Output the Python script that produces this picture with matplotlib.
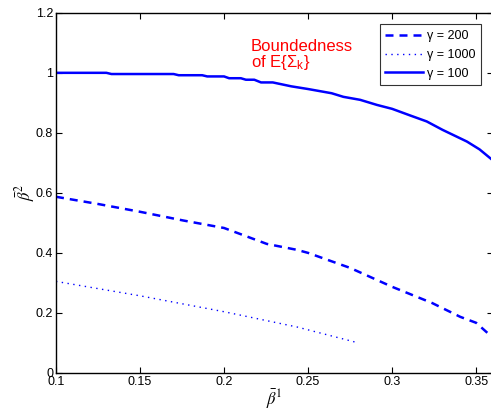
import matplotlib
matplotlib.use("Agg")
import matplotlib.pyplot as plt

plt.rcParams['font.family'] = ['Liberation Sans', 'DejaVu Sans']
plt.rcParams['mathtext.fontset'] = 'stix'

# gamma = 200 (dashed)
b1_200 = [0.10, 0.125, 0.15, 0.1757, 0.20, 0.2254, 0.2435, 0.25, 0.275, 0.30, 0.3238, 0.3405, 0.35, 0.36]
b2_200 = [0.587, 0.563, 0.537, 0.508, 0.483, 0.43, 0.41, 0.40, 0.35, 0.287, 0.233, 0.187, 0.167, 0.117]

# gamma = 1000 (dotted)
b1_1000 = [0.10, 0.15, 0.20, 0.2435, 0.28]
b2_1000 = [0.305, 0.257, 0.204, 0.153, 0.10]

# gamma = 100 (solid)
b1_100 = [0.10, 0.13, 0.133, 0.17, 0.173, 0.187, 0.19, 0.20, 0.203, 0.21, 0.213, 0.218,
          0.222, 0.229, 0.24, 0.25, 0.264, 0.271, 0.281, 0.291, 0.30, 0.3107, 0.3206,
          0.33, 0.3445, 0.352, 0.36]
b2_100 = [1.0, 1.0, 0.996, 0.996, 0.992, 0.992, 0.988, 0.988, 0.982, 0.982, 0.977, 0.977,
          0.968, 0.968, 0.955, 0.946, 0.932, 0.92, 0.91, 0.893, 0.88, 0.858, 0.838,
          0.81, 0.771, 0.745, 0.708]

fig = plt.figure(figsize=(4.91, 4.13), dpi=100)
ax = fig.add_axes([0.114, 0.097, 0.89, 0.872])

ax.plot(b1_200, b2_200, color='blue', lw=1.8, dashes=(3.2, 2.4), label='γ = 200')
ax.plot(b1_1000, b2_1000, color='blue', lw=1.0, dashes=(1.0, 3.2), label='γ = 1000')
ax.plot(b1_100, b2_100, color='blue', lw=1.8, label='γ = 100')

ax.set_xlim(0.1, 0.36)
ax.set_ylim(0, 1.2)
ax.set_xticks([0.1, 0.15, 0.2, 0.25, 0.3, 0.35])
ax.set_xticklabels(['0.1', '0.15', '0.2', '0.25', '0.3', '0.35'])
ax.set_yticks([0, 0.2, 0.4, 0.6, 0.8, 1.0, 1.2])
ax.set_yticklabels(['0', '0.2', '0.4', '0.6', '0.8', '1', '1.2'])
ax.tick_params(direction='in', top=True, right=True, labelsize=9, length=4, width=0.8, pad=2)
for s in ax.spines.values():
    s.set_linewidth(1.0)

ax.set_xlabel(r'$\bar{\beta}^1$', fontsize=12, labelpad=0)
ax.set_ylabel(r'$\bar{\beta}^2$', fontsize=12, labelpad=-1)

ax.text(0.216, 1.112, 'Boundedness\nof E{Σ$_\\mathregular{k}$}', color='red', fontsize=12,
        va='top', ha='left', linespacing=0.9)

leg = ax.legend(loc='upper right', bbox_to_anchor=(0.988, 0.985), fontsize=9,
                frameon=True, fancybox=False, edgecolor='black', handlelength=3.0,
                handletextpad=0.35, borderpad=0.45, labelspacing=0.55)
leg.get_frame().set_linewidth(0.8)

fig.savefig('out.png', dpi=100)
